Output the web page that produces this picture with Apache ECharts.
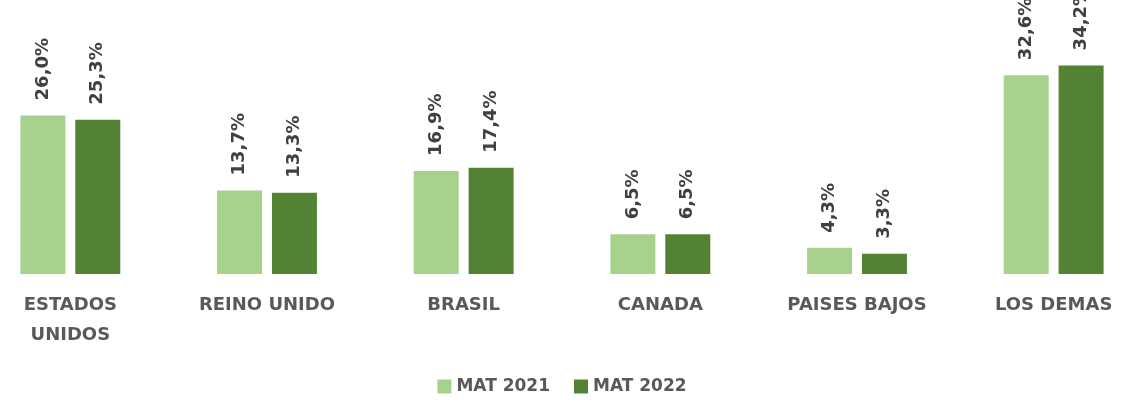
<!DOCTYPE html>
<html>
<head>
<meta charset="utf-8">
<script src="https://cdn.jsdelivr.net/npm/echarts@6/dist/echarts.min.js"></script>
<style>
  html, body { margin: 0; padding: 0; background: #fff; overflow: hidden; }
  /* el gráfico original corta los extremos: ancho mayor que la ventana */
  #chart { width: 1180px; height: 405px; margin-left: -28px; }
</style>
</head>
<body>
<div id="chart"></div>
<script>
// datos
const categories = ["ESTADOS\nUNIDOS", "REINO UNIDO", "BRASIL", "CANADA", "PAISES BAJOS", "LOS DEMAS"];
const mat2021 = [26.0, 13.7, 16.9, 6.5, 4.3, 32.6];
const mat2022 = [25.3, 13.3, 17.4, 6.5, 3.3, 34.2];
const seriesNames = ["MAT 2021", "MAT 2022"];

const chart = echarts.init(document.getElementById("chart"));

function pct(p) {
  return p.value.toFixed(1).replace(".", ",") + "%";
}

const labelStyle = {
  show: true,
  position: "top",
  rotate: 90,
  align: "left",
  verticalAlign: "middle",
  distance: 15,
  color: "#404040",
  fontFamily: "DejaVu Sans",
  fontWeight: "bold",
  fontSize: 18,
  formatter: pct
};

chart.setOption({
  animation: false,
  grid: {
    left: 0,
    right: 0,
    top: 30,
    bottom: 131
  },
  legend: {
    data: seriesNames,
    bottom: 5,
    left: "center",
    itemWidth: 14,
    itemHeight: 14,
    itemGap: 24,
    icon: "rect",
    textStyle: {
      color: "#595959",
      fontFamily: "DejaVu Sans",
      fontWeight: "bold",
      fontSize: 17
    }
  },
  xAxis: {
    type: "category",
    data: categories,
    axisLine: { show: false },
    axisTick: { show: false },
    axisLabel: {
      color: "#595959",
      fontFamily: "DejaVu Sans",
      fontWeight: "bold",
      fontSize: 18,
      margin: 16,
      lineHeight: 30,
      verticalAlign: "top",
      interval: 0
    }
  },
  yAxis: {
    type: "value",
    min: 0,
    max: 40,
    show: false,
    splitLine: { show: false }
  },
  series: [
    {
      name: seriesNames[0],
      type: "bar",
      data: mat2021,
      barWidth: 45,
      barGap: "22%",
      itemStyle: { color: "#A9D18E" },
      label: labelStyle
    },
    {
      name: seriesNames[1],
      type: "bar",
      data: mat2022,
      barWidth: 45,
      barGap: "22%",
      itemStyle: { color: "#548235" },
      label: labelStyle
    }
  ]
});
</script>
</body>
</html>
